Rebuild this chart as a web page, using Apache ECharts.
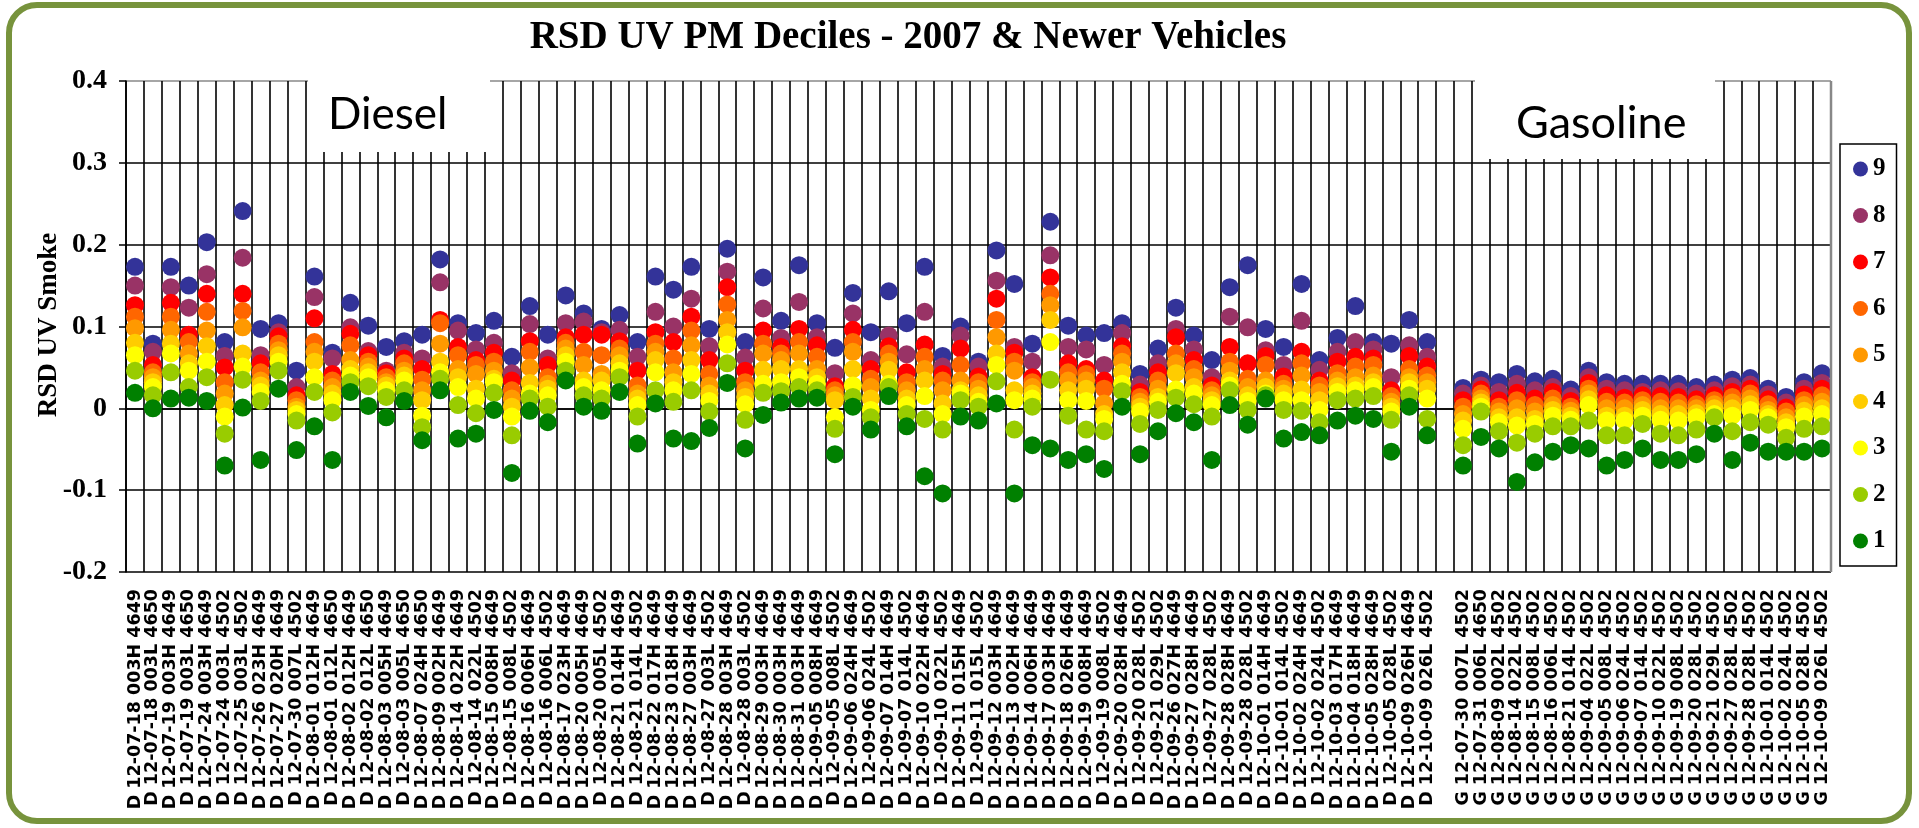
<!DOCTYPE html>
<html>
<head>
<meta charset="utf-8">
<title>RSD UV PM Deciles</title>
<script src="https://cdn.jsdelivr.net/npm/echarts@6/dist/echarts.min.js"></script>
<style>
html, body { margin: 0; padding: 0; background: #fff; }
#main { width: 1919px; height: 828px; }
</style>
</head>
<body>
<div id="main"></div>
<script>
// categories: diesel runs, one empty slot, gasoline runs
var dieselLabels = [
    'D 12-07-18 003H 4649', 'D 12-07-18 003L 4650', 'D 12-07-19 003H 4649', 'D 12-07-19 003L 4650', 'D 12-07-24 003H 4649',
    'D 12-07-24 003L 4502', 'D 12-07-25 003L 4502', 'D 12-07-26 023H 4649', 'D 12-07-27 020H 4649', 'D 12-07-30 007L 4502',
    'D 12-08-01 012H 4649', 'D 12-08-01 012L 4650', 'D 12-08-02 012H 4649', 'D 12-08-02 012L 4650', 'D 12-08-03 005H 4649',
    'D 12-08-03 005L 4650', 'D 12-08-07 024H 4650', 'D 12-08-09 002H 4649', 'D 12-08-14 022H 4649', 'D 12-08-14 022L 4502',
    'D 12-08-15 008H 4649', 'D 12-08-15 008L 4502', 'D 12-08-16 006H 4649', 'D 12-08-16 006L 4502', 'D 12-08-17 023H 4649',
    'D 12-08-20 005H 4649', 'D 12-08-20 005L 4502', 'D 12-08-21 014H 4649', 'D 12-08-21 014L 4502', 'D 12-08-22 017H 4649',
    'D 12-08-23 018H 4649', 'D 12-08-27 003H 4649', 'D 12-08-27 003L 4502', 'D 12-08-28 003H 4649', 'D 12-08-28 003L 4502',
    'D 12-08-29 003H 4649', 'D 12-08-30 003H 4649', 'D 12-08-31 003H 4649', 'D 12-09-05 008H 4649', 'D 12-09-05 008L 4502',
    'D 12-09-06 024H 4649', 'D 12-09-06 024L 4502', 'D 12-09-07 014H 4649', 'D 12-09-07 014L 4502', 'D 12-09-10 022H 4649',
    'D 12-09-10 022L 4502', 'D 12-09-11 015H 4649', 'D 12-09-11 015L 4502', 'D 12-09-12 003H 4649', 'D 12-09-13 002H 4649',
    'D 12-09-14 006H 4649', 'D 12-09-17 003H 4649', 'D 12-09-18 026H 4649', 'D 12-09-19 008H 4649', 'D 12-09-19 008L 4502',
    'D 12-09-20 028H 4649', 'D 12-09-20 028L 4502', 'D 12-09-21 029L 4502', 'D 12-09-26 027H 4649', 'D 12-09-27 028H 4649',
    'D 12-09-27 028L 4502', 'D 12-09-28 028H 4649', 'D 12-09-28 028L 4502', 'D 12-10-01 014H 4649', 'D 12-10-01 014L 4502',
    'D 12-10-02 024H 4649', 'D 12-10-02 024L 4502', 'D 12-10-03 017H 4649', 'D 12-10-04 018H 4649', 'D 12-10-05 028H 4649',
    'D 12-10-05 028L 4502', 'D 12-10-09 026H 4649', 'D 12-10-09 026L 4502'
];
var gasLabels = [
    'G 12-07-30 007L 4502', 'G 12-07-31 006L 4650', 'G 12-08-09 002L 4502', 'G 12-08-14 022L 4502', 'G 12-08-15 008L 4502',
    'G 12-08-16 006L 4502', 'G 12-08-21 014L 4502', 'G 12-09-04 022L 4502', 'G 12-09-05 008L 4502', 'G 12-09-06 024L 4502',
    'G 12-09-07 014L 4502', 'G 12-09-10 022L 4502', 'G 12-09-19 008L 4502', 'G 12-09-20 028L 4502', 'G 12-09-21 029L 4502',
    'G 12-09-27 028L 4502', 'G 12-09-28 028L 4502', 'G 12-10-01 014L 4502', 'G 12-10-02 024L 4502', 'G 12-10-05 028L 4502',
    'G 12-10-09 026L 4502'
];
var categories = dieselLabels.concat([''], gasLabels);

var deciles = ['9', '8', '7', '6', '5', '4', '3', '2', '1'];
var colors = ['#333399', '#993366', '#ff0000', '#ff6600', '#ff9900', '#ffcc00', '#ffff00', '#99cc00', '#008000'];

// decile values per category (null = empty slot between diesel and gasoline)
var d9 = [0.173,0.079,0.173,0.150,0.203,0.081,0.241,0.097,0.104,0.046,
    0.161,0.068,0.129,0.101,0.075,0.082,0.090,0.182,0.104,0.092,
    0.107,0.063,0.125,0.090,0.138,0.116,0.097,0.114,0.081,0.161,
    0.145,0.173,0.097,0.195,0.081,0.160,0.107,0.175,0.104,0.074,
    0.141,0.093,0.143,0.104,0.173,0.064,0.100,0.057,0.193,0.152,
    0.079,0.228,0.101,0.089,0.092,0.104,0.042,0.073,0.123,0.089,
    0.059,0.148,0.175,0.097,0.075,0.152,0.059,0.086,0.125,0.081,
    0.079,0.108,0.081,null,
    0.025,0.035,0.032,0.042,0.033,0.036,
    0.023,0.046,0.032,0.030,0.030,0.030,0.030,0.026,0.029,0.035,
    0.037,0.024,0.014,0.032,0.043];
var d8 = [0.150,0.069,0.148,0.123,0.164,0.064,0.184,0.065,0.093,0.026,
    0.136,0.061,0.099,0.070,0.046,0.068,0.061,0.154,0.095,0.072,
    0.080,0.043,0.103,0.061,0.104,0.106,0.093,0.096,0.063,0.118,
    0.100,0.134,0.076,0.167,0.062,0.122,0.086,0.130,0.087,0.043,
    0.116,0.059,0.089,0.066,0.118,0.051,0.089,0.051,0.156,0.075,
    0.057,0.187,0.075,0.072,0.053,0.092,0.029,0.055,0.097,0.072,
    0.038,0.112,0.099,0.071,0.053,0.107,0.047,0.069,0.081,0.072,
    0.038,0.077,0.063,null,
    0.018,0.028,0.020,0.030,0.022,0.026,
    0.015,0.038,0.024,0.022,0.020,0.022,0.021,0.018,0.022,0.027,
    0.029,0.017,0.007,0.024,0.031];
var d7 = [0.126,0.053,0.129,0.090,0.140,0.050,0.140,0.055,0.088,0.016,
    0.110,0.042,0.091,0.065,0.043,0.061,0.048,0.108,0.075,0.059,
    0.068,0.034,0.082,0.053,0.087,0.090,0.090,0.082,0.046,0.093,
    0.081,0.112,0.059,0.148,0.046,0.095,0.075,0.097,0.077,0.027,
    0.096,0.048,0.076,0.044,0.078,0.042,0.073,0.039,0.134,0.068,
    0.038,0.160,0.055,0.048,0.034,0.076,0.020,0.044,0.087,0.059,
    0.028,0.075,0.055,0.064,0.039,0.069,0.034,0.057,0.063,0.061,
    0.022,0.064,0.051,null,
    0.010,0.023,0.010,0.019,0.012,0.020,
    0.009,0.031,0.016,0.013,0.016,0.015,0.014,0.011,0.016,0.020,
    0.024,0.011,0.001,0.017,0.024];
var d6 = [0.112,0.044,0.112,0.081,0.118,0.032,0.119,0.044,0.079,0.010,
    0.081,0.034,0.077,0.057,0.038,0.055,0.035,0.104,0.065,0.053,
    0.057,0.022,0.069,0.038,0.080,0.069,0.065,0.073,0.028,0.079,
    0.061,0.095,0.042,0.127,0.032,0.079,0.067,0.081,0.063,0.022,
    0.081,0.036,0.067,0.032,0.063,0.034,0.053,0.032,0.108,0.057,
    0.032,0.140,0.044,0.042,0.024,0.067,0.014,0.034,0.067,0.048,
    0.022,0.057,0.036,0.053,0.030,0.055,0.028,0.043,0.051,0.053,
    0.015,0.048,0.040,null,
    0.002,0.018,0.002,0.010,0.004,0.012,
    0.002,0.024,0.008,0.007,0.010,0.008,0.007,0.005,0.010,0.014,
    0.018,0.005,-0.004,0.010,0.016];
var d5 = [0.098,0.038,0.096,0.067,0.095,0.018,0.099,0.034,0.071,0.002,
    0.069,0.026,0.059,0.051,0.032,0.046,0.022,0.079,0.048,0.042,
    0.046,0.012,0.050,0.030,0.073,0.053,0.042,0.065,0.018,0.069,
    0.044,0.077,0.028,0.108,0.022,0.067,0.059,0.067,0.048,0.016,
    0.069,0.026,0.057,0.022,0.048,0.022,0.034,0.024,0.087,0.046,
    0.026,0.126,0.034,0.034,0.006,0.057,0.008,0.024,0.055,0.038,
    0.016,0.046,0.026,0.034,0.024,0.040,0.020,0.034,0.038,0.040,
    0.008,0.038,0.032,null,
    -0.007,0.012,-0.004,0.000,-0.004,0.004,
    -0.003,0.018,0.000,0.000,0.004,0.000,0.000,0.000,0.005,0.007,
    0.012,-0.002,-0.011,0.004,0.008];
var d4 = [0.080,0.032,0.079,0.055,0.076,0.004,0.067,0.028,0.065,-0.002,
    0.057,0.018,0.048,0.044,0.028,0.040,0.010,0.057,0.038,0.024,
    0.036,0.002,0.031,0.024,0.065,0.034,0.034,0.055,0.012,0.059,
    0.032,0.059,0.018,0.093,0.014,0.047,0.048,0.048,0.038,0.010,
    0.048,0.012,0.047,0.012,0.034,0.006,0.022,0.016,0.067,0.022,
    0.018,0.108,0.022,0.024,-0.007,0.044,0.002,0.014,0.043,0.026,
    0.010,0.034,0.016,0.026,0.018,0.023,0.010,0.027,0.028,0.032,
    0.002,0.032,0.024,null,
    -0.015,0.007,-0.011,-0.011,-0.013,-0.002,
    -0.009,0.011,-0.009,-0.009,-0.002,-0.007,-0.007,-0.006,0.000,0.000,
    0.005,-0.007,-0.017,-0.003,0.000];
var d3 = [0.065,0.026,0.067,0.046,0.057,-0.010,0.051,0.020,0.057,-0.007,
    0.038,0.010,0.040,0.038,0.022,0.034,-0.009,0.044,0.026,0.012,
    0.032,-0.010,0.018,0.016,0.057,0.026,0.022,0.046,0.004,0.044,
    0.022,0.042,0.009,0.078,0.005,0.030,0.032,0.038,0.030,-0.011,
    0.028,-0.002,0.030,0.004,0.015,-0.007,0.018,0.008,0.053,0.010,
    0.012,0.081,0.010,0.009,-0.013,0.030,-0.004,0.008,0.023,0.018,
    0.004,0.028,0.009,0.018,0.010,0.010,-0.002,0.020,0.022,0.026,
    -0.004,0.024,0.012,null,
    -0.025,0.002,-0.017,-0.021,-0.019,-0.009,
    -0.014,0.004,-0.015,-0.015,-0.009,-0.014,-0.015,-0.011,-0.007,-0.009,
    -0.002,-0.011,-0.023,-0.010,-0.007];
var d2 = [0.046,0.016,0.044,0.026,0.038,-0.031,0.035,0.009,0.046,-0.015,
    0.020,-0.005,0.032,0.027,0.014,0.022,-0.023,0.036,0.004,-0.006,
    0.019,-0.033,0.012,0.002,0.046,0.016,0.012,0.038,-0.010,0.022,
    0.008,0.022,-0.004,0.055,-0.014,0.019,0.021,0.026,0.022,-0.025,
    0.014,-0.011,0.026,-0.007,-0.013,-0.026,0.010,0.002,0.033,-0.026,
    0.002,0.035,-0.009,-0.026,-0.028,0.021,-0.019,-0.002,0.013,0.005,
    -0.010,0.022,-0.002,0.016,-0.002,-0.003,-0.017,0.010,0.012,0.015,
    -0.014,0.016,-0.013,null,
    -0.045,-0.004,-0.028,-0.042,-0.031,-0.022,
    -0.022,-0.015,-0.033,-0.033,-0.019,-0.031,-0.033,-0.026,-0.011,-0.028,
    -0.017,-0.020,-0.036,-0.025,-0.022];
var d1 = [0.019,0.000,0.012,0.013,0.009,-0.070,0.001,-0.063,0.024,-0.051,
    -0.022,-0.063,0.020,0.003,-0.011,0.009,-0.039,0.022,-0.037,-0.031,
    -0.002,-0.079,-0.003,-0.017,0.034,0.002,-0.003,0.020,-0.043,0.006,
    -0.037,-0.040,-0.024,0.031,-0.049,-0.008,0.007,0.012,0.013,-0.056,
    0.002,-0.026,0.015,-0.022,-0.083,-0.104,-0.010,-0.015,0.006,-0.104,
    -0.045,-0.049,-0.063,-0.056,-0.074,0.002,-0.056,-0.028,-0.006,-0.017,
    -0.063,0.004,-0.020,0.012,-0.037,-0.029,-0.033,-0.015,-0.009,-0.013,
    -0.053,0.002,-0.033,null,
    -0.070,-0.035,-0.049,-0.090,-0.066,-0.053,
    -0.045,-0.049,-0.070,-0.063,-0.049,-0.063,-0.063,-0.056,-0.031,-0.063,
    -0.042,-0.053,-0.053,-0.053,-0.049];

var decileData = [d9, d8, d7, d6, d5, d4, d3, d2, d1];

function chart_deciles(id) {
    var main = echarts.init(document.getElementById(id));
    var series = [];
    for (var i = 0; i < deciles.length; i++) {
        series.push({
            name: deciles[i],
            type: 'scatter',
            symbol: 'circle',
            symbolSize: 18,
            itemStyle: { color: colors[i], opacity: 1 },
            data: decileData[i]
        });
    }
    var option = {
        animation: false,
        grid: {
            left: 126,
            right: 88,
            top: 81,
            bottom: 256
        },
        legend: {
            orient: 'vertical',
            left: 1840,
            top: 144,
            padding: [12, 11, 12, 13],
            itemGap: 20.5,
            itemWidth: 15,
            itemHeight: 15,
            icon: 'circle',
            borderColor: '#000',
            borderWidth: 1.5,
            textStyle: {
                fontFamily: 'Liberation Serif',
                fontWeight: 'bold',
                fontSize: 25,
                lineHeight: 26,
                color: '#000'
            },
            data: deciles
        },
        xAxis: {
            type: 'category',
            data: categories,
            boundaryGap: true,
            axisLine: { lineStyle: { color: '#000', width: 1.5 } },
            axisTick: { interval: 0, length: 8, lineStyle: { color: '#000', width: 1.5 } },
            axisLabel: {
                interval: 0,
                rotate: 90,
                margin: 17,
                fontFamily: 'DejaVu Sans',
                fontWeight: 'bold',
                fontSize: 17.5,
                color: '#000'
            },
            splitLine: { show: true, interval: 0, lineStyle: { color: '#000', width: 1.6 } }
        },
        yAxis: {
            type: 'value',
            min: -0.2,
            max: 0.4,
            interval: 0.1,
            axisLine: { show: true, lineStyle: { color: '#000', width: 1.6 } },
            axisTick: { show: true, length: 7, lineStyle: { color: '#000', width: 1.5 } },
            axisLabel: {
                margin: 19,
                fontFamily: 'Liberation Serif',
                fontWeight: 'bold',
                fontSize: 28,
                color: '#000',
                formatter: function (v) {
                    return Math.abs(v) < 1e-9 ? '0' : v.toFixed(1);
                }
            },
            splitLine: {
                show: true,
                lineStyle: { color: ['#000', '#000', '#000', '#000', '#000', '#000', '#888'], width: 1.6 }
            }
        },
        graphic: {
            elements: [
                // outer frame
                { type: 'rect', z: 20, silent: true,
                  shape: { x: 9, y: 5, width: 1900, height: 816, r: 28 },
                  style: { fill: 'none', stroke: '#77933c', lineWidth: 6 } },
                // right edge of plot
                { type: 'line', z: 20, silent: true,
                  shape: { x1: 1831, y1: 81, x2: 1831, y2: 572 },
                  style: { stroke: '#888', lineWidth: 2.5 } },
                // Diesel / Gasoline labels sit on white boxes
                { type: 'rect', z: 20, silent: true,
                  shape: { x: 308, y: 74, width: 182, height: 78 },
                  style: { fill: '#fff' } },
                { type: 'text', z: 21, silent: true, x: 328, y: 115,
                  style: { text: 'Diesel', font: '44px Lato', fill: '#000', textVerticalAlign: 'middle' } },
                { type: 'rect', z: 20, silent: true,
                  shape: { x: 1475, y: 74, width: 240, height: 85 },
                  style: { fill: '#fff' } },
                { type: 'text', z: 21, silent: true, x: 1516, y: 123,
                  style: { text: 'Gasoline', font: '45px Lato', fill: '#000', textVerticalAlign: 'middle' } },
                // title
                { type: 'text', z: 21, silent: true, x: 908, y: 38,
                  style: { text: 'RSD UV PM Deciles - 2007 & Newer Vehicles', font: 'bold 39px "Liberation Serif"',
                           fill: '#000', textAlign: 'center', textVerticalAlign: 'middle' } },
                // y axis name
                { type: 'text', z: 21, silent: true, x: 49, y: 325, rotation: Math.PI / 2,
                  style: { text: 'RSD UV Smoke', font: 'bold 27px "Liberation Serif"',
                           fill: '#000', textAlign: 'center', textVerticalAlign: 'middle' } }
            ]
        },
        series: series
    };
    main.setOption(option);
}

chart_deciles('main');
</script>
</body>
</html>
